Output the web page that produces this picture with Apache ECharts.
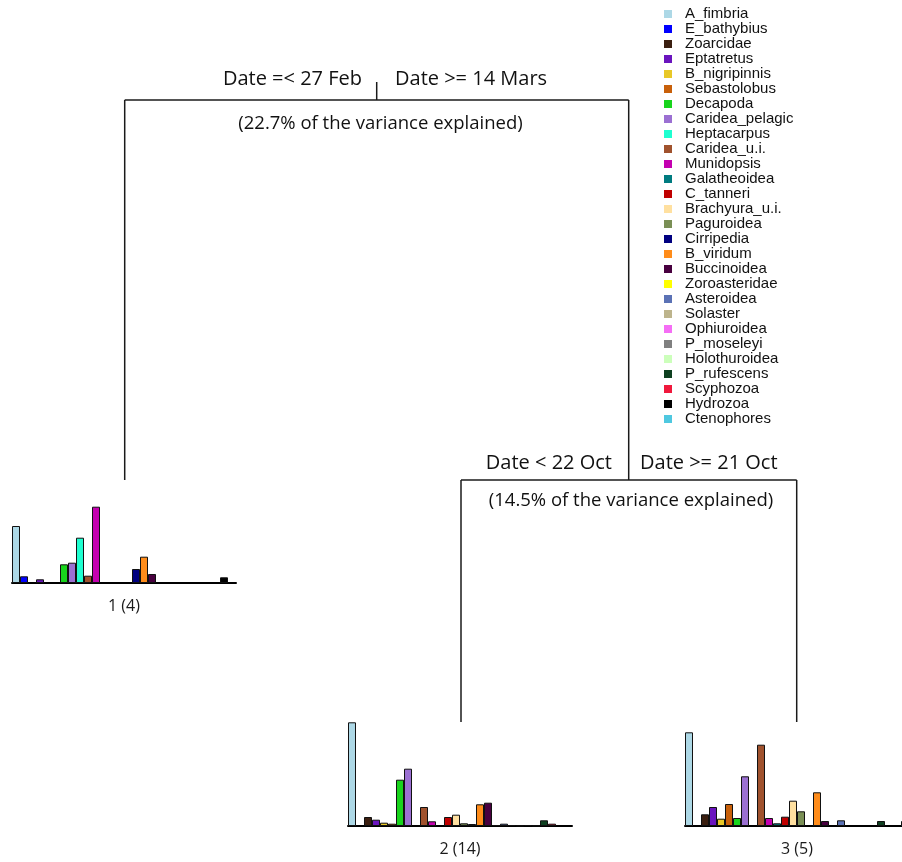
<!DOCTYPE html>
<html>
<head>
<meta charset="utf-8">
<script src="https://cdn.jsdelivr.net/npm/echarts@6/dist/echarts.min.js"></script>
<style>
html,body{margin:0;padding:0;background:#fff;}
#c{width:902px;height:862px;}
</style>
</head>
<body>
<div id="c"></div>
<script>
const species = ['A_fimbria','E_bathybius','Zoarcidae','Eptatretus','B_nigripinnis','Sebastolobus','Decapoda','Caridea_pelagic','Heptacarpus','Caridea_u.i.','Munidopsis','Galatheoidea','C_tanneri','Brachyura_u.i.','Paguroidea','Cirripedia','B_viridum','Buccinoidea','Zoroasteridae','Asteroidea','Solaster','Ophiuroidea','P_moseleyi','Holothuroidea','P_rufescens','Scyphozoa','Hydrozoa','Ctenophores'];
const colors = ['#ADD8E6','#0000FF','#3B1F10','#6A14BE','#E8C828','#C8600A','#18D41C','#9B70D2','#1EFFD0','#A0522D','#C400B0','#007B80','#C00000','#FFE0A0','#7A8F55','#000080','#FF8C1A','#48003F','#FFFF00','#5B72B5','#BDB48C','#F56EF5','#808080','#CCFFBB','#0E4020','#F0183C','#000000','#4FC8E0'];
const leaf1 = [57, 6.7, 0, 3.7, 0, 0, 18.7, 20.3, 45.3, 7.3, 76.3, 0, 0, 0, 0, 14, 26.3, 9, 0, 0, 0, 0, 0, 0, 0, 0, 5.7, 0];
const leaf2 = [103.7, 0, 9, 6.3, 3.3, 2.3, 46.3, 57.3, 0, 19, 4.7, 0, 9, 11.3, 2.7, 2, 21.7, 23.3, 1, 2.3, 1, 0.5, 1, 0.5, 5.7, 2.3, 0, 0];
const leaf3 = [93.7, 0, 11.7, 19, 7.3, 22, 8, 49.7, 0, 81.3, 8, 2.7, 9.3, 25.3, 14.7, 0, 33.7, 5, 0, 5.7, 0, 0, 0, 0, 5, 0, 0, 5];
const leafLabels = ['1 (4)', '2 (14)', '3 (5)'];
const splitLabels = ['Date =< 27 Feb', 'Date >= 14 Mars', 'Date < 22 Oct', 'Date >= 21 Oct'];
const varianceLabels = ['(22.7% of the variance explained)', '(14.5% of the variance explained)'];

const leaves = [leaf1, leaf2, leaf3];
const gridDefs = [
  {left: 12, top: 483, width: 224, height: 100},
  {left: 348, top: 716, width: 224, height: 110},
  {left: 685, top: 716, width: 224, height: 110}
];
const treeFont = '"Open Sans", sans-serif';
const lineStyle = {stroke: '#1a1a1a', lineWidth: 1.5};

const grids = gridDefs.map(g => ({left: g.left, top: g.top, width: g.width, height: g.height, containLabel: false, outerBoundsMode: 'none'}));
const xAxes = gridDefs.map((g, i) => ({
  type: 'category', gridIndex: i, data: [leafLabels[i]],
  axisLine: {show: true, lineStyle: {color: '#000', width: 2}},
  axisTick: {show: false},
  axisLabel: {color: '#1a1a1a', fontSize: 16, fontFamily: treeFont, margin: 15},
  splitLine: {show: false}
}));
const yAxes = gridDefs.map((g, i) => ({
  type: 'value', gridIndex: i, min: 0, max: g.height, show: false
}));
const series = [];
leaves.forEach((vals, gi) => {
  species.forEach((name, si) => {
    series.push({
      type: 'bar', name: name, xAxisIndex: gi, yAxisIndex: gi,
      barWidth: 8, barGap: '0%', clip: false,
      data: [vals[si] > 0 ? vals[si] : '-'],
      itemStyle: {color: colors[si], borderColor: '#111', borderWidth: 1},
      emphasis: {disabled: true},
      animation: false
    });
  });
});

function text(x, y, str, align, size) {
  return {type: 'text', x: x, y: y, style: {text: str, fill: '#111', font: size + 'px ' + treeFont, textAlign: align, textVerticalAlign: 'middle'}, silent: true};
}
function line(x1, y1, x2, y2) {
  return {type: 'line', shape: {x1: x1, y1: y1, x2: x2, y2: y2}, style: lineStyle, silent: true};
}

const graphic = [
  line(376.7, 82, 376.7, 100),
  line(124.7, 100, 628.7, 100),
  line(124.7, 100, 124.7, 480),
  line(628.7, 100, 628.7, 480),
  line(461, 480, 796.7, 480),
  line(461, 480, 461, 722),
  line(796.7, 480, 796.7, 722),
  text(362, 79, splitLabels[0], 'right', 20),
  text(395, 79, splitLabels[1], 'left', 20),
  text(380.5, 124, varianceLabels[0], 'center', 18.5),
  text(612, 463, splitLabels[2], 'right', 20),
  text(640, 463, splitLabels[3], 'left', 20),
  text(631, 501, varianceLabels[1], 'center', 18.5)
];

const chart = echarts.init(document.getElementById('c'), null, {renderer: 'canvas'});
chart.setOption({
  animation: false,
  backgroundColor: '#fff',
  grid: grids,
  xAxis: xAxes,
  yAxis: yAxes,
  legend: {
    orient: 'vertical', left: 659, top: 1.5,
    data: species,
    icon: 'rect', itemWidth: 8, itemHeight: 8, itemGap: 0,
    selectedMode: false,
    itemStyle: {borderWidth: 0},
    textStyle: {fontFamily: '"Liberation Sans", Arial, sans-serif', fontSize: 15, color: '#111', lineHeight: 14.85, padding: [0, 0, 0, 8]}
  },
  series: series,
  graphic: graphic
});
</script>
</body>
</html>
